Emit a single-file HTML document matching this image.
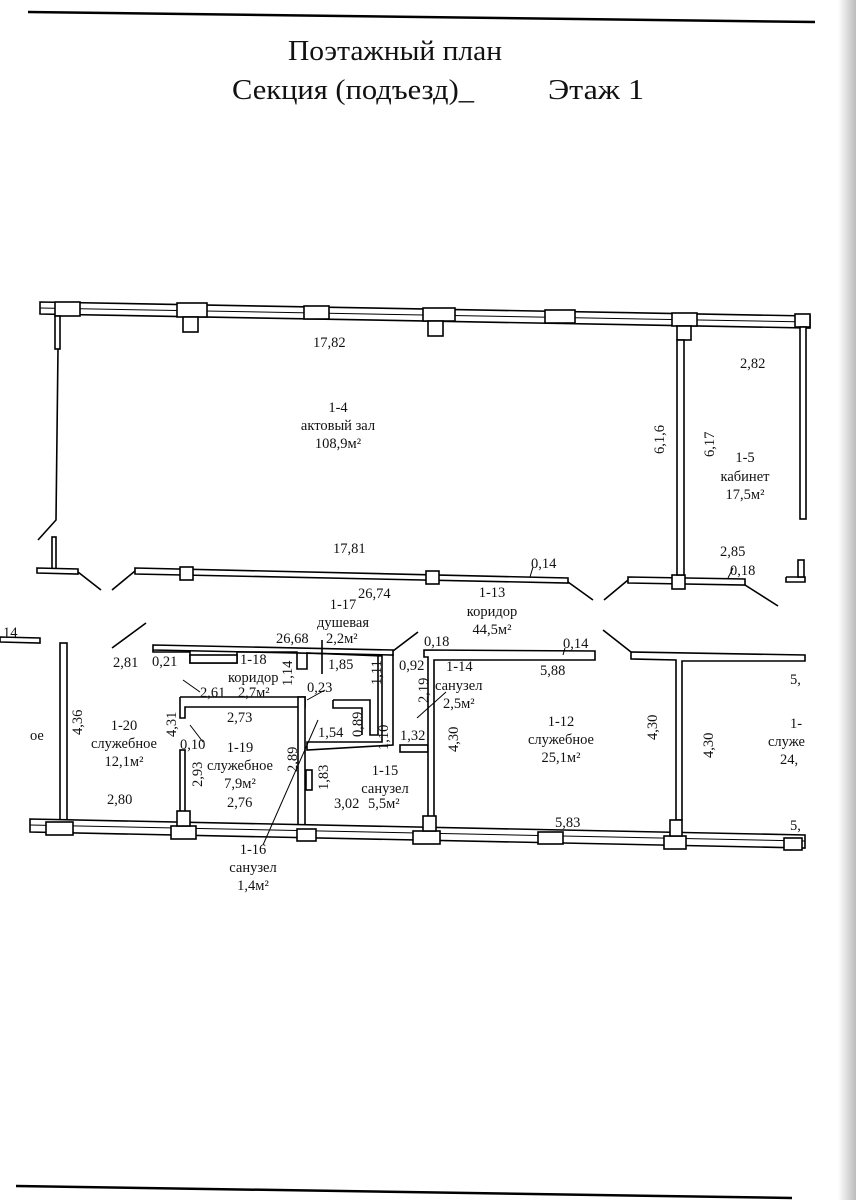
<!DOCTYPE html>
<html><head><meta charset="utf-8"><style>
html,body{margin:0;padding:0;background:#fff;}
svg{display:block}
text{font-family:"Liberation Serif",serif;fill:#111;}
.t{font-size:14.5px;}
</style></head><body>
<svg width="856" height="1200" viewBox="0 0 856 1200" xmlns="http://www.w3.org/2000/svg">
<defs><linearGradient id="g" x1="0" x2="1"><stop offset="0" stop-color="#fff"/><stop offset="0.5" stop-color="#ddd"/><stop offset="1" stop-color="#bbb"/></linearGradient></defs>
<rect x="838" y="0" width="18" height="1200" fill="url(#g)"/>
<line x1="28" y1="12" x2="815" y2="22" stroke="#000" stroke-width="2.5"/>
<line x1="16" y1="1186" x2="792" y2="1198" stroke="#000" stroke-width="2.5"/>
<text x="395" y="60" font-size="29" text-anchor="middle" textLength="214" lengthAdjust="spacingAndGlyphs">Поэтажный план</text>
<text x="232" y="99" font-size="29" textLength="242" lengthAdjust="spacingAndGlyphs">Секция (подъезд)_</text>
<text x="548" y="99" font-size="29" textLength="96" lengthAdjust="spacingAndGlyphs">Этаж  1</text>

<g fill="#fff" stroke="#000" stroke-width="1.6">
<polygon points="40,302 810,316 810,328 40,314"/>
<line x1="40" y1="308" x2="810" y2="322" stroke-width="1"/>
<rect x="55" y="302" width="25" height="14"/>
<rect x="177" y="303" width="30" height="14"/><rect x="183" y="317" width="15" height="15"/>
<rect x="304" y="306" width="25" height="13"/>
<rect x="423" y="308" width="32" height="13"/><rect x="428" y="321" width="15" height="15"/>
<rect x="545" y="310" width="30" height="13"/>
<rect x="672" y="313" width="25" height="13"/><rect x="677" y="326" width="14" height="14"/>
<rect x="795" y="314" width="15" height="13"/>
<rect x="55" y="316" width="5" height="33"/>
<polyline fill="none" points="58,349 56,520 38,540"/>
<rect x="52" y="537" width="4" height="32"/>
<polygon points="37,568 78,569 78,574 37,573"/>
<polyline fill="none" points="78,572 101,590"/>
<polyline fill="none" points="112,590 135,571"/>
<polygon points="135,568 568,578 568,583 135,574"/>
<rect x="180" y="567" width="13" height="13"/>
<rect x="426" y="571" width="13" height="13"/>
<polyline fill="none" points="568,582 593,600"/>
<polyline fill="none" points="604,600 628,580"/>
<polygon points="628,577 745,579 745,585 628,583"/>
<rect x="672" y="575" width="13" height="14"/>
<polyline fill="none" points="745,585 778,606"/>
<rect x="677" y="340" width="7" height="235"/>
<rect x="800" y="327" width="6" height="192"/>
<polyline fill="none" points="786,577 805,577 805,582 786,582 786,577"/>
<rect x="798" y="560" width="6" height="17"/>
<polygon points="0,637 40,638 40,643 0,642"/>
<polyline fill="none" points="112,648 146,623"/>
<rect x="60" y="643" width="7" height="180"/>
<polygon points="153,645 393,650 393,655 153,650"/>
<polyline fill="none" points="393,651 418,632"/>
<polyline fill="none" points="153,650 153,652 190,652 190,663 237,663 237,652 297,652 297,669 307,669 307,653 382,656 382,742 307,742 307,750 393,745 393,654"/>
<rect x="190" y="655" width="47" height="8"/>
<polyline fill="none" points="333,700 370,700 370,735 378,735 378,656"/>
<polyline fill="none" points="333,700 333,708 362,708 362,735"/>
<line x1="322" y1="640" x2="322" y2="674"/>
<polyline fill="none" points="180,697 305,697 305,707 185,707 185,718 180,718 180,697"/>
<rect x="298" y="697" width="7" height="130"/>
<rect x="180" y="750" width="5" height="62"/>
<rect x="306" y="770" width="6" height="20"/>
<rect x="400" y="745" width="28" height="7"/>
<polygon points="424,650 595,651 595,660 434,660 434,818 428,818 428,657 424,657"/>
<polyline fill="none" points="603,630 631,652"/>
<polygon points="631,652 805,655 805,661 682,661 682,820 676,820 676,660 631,659"/>
<polygon points="30,819 805,835 805,848 30,832"/>
<line x1="30" y1="825" x2="805" y2="841" stroke-width="1"/>
<rect x="46" y="822" width="27" height="13"/>
<rect x="171" y="826" width="25" height="13"/><rect x="177" y="811" width="13" height="15"/>
<rect x="297" y="829" width="19" height="12"/>
<rect x="413" y="831" width="27" height="13"/><rect x="423" y="816" width="13" height="15"/>
<rect x="538" y="832" width="25" height="12"/>
<rect x="664" y="836" width="22" height="13"/><rect x="670" y="820" width="12" height="16"/>
<rect x="784" y="838" width="18" height="12"/>
</g>
<g stroke="#000" stroke-width="1" fill="none">
<line x1="318" y1="720" x2="263" y2="845"/>
<line x1="417" y1="718" x2="446" y2="692"/>
<line x1="183" y1="680" x2="200" y2="692"/>
<line x1="190" y1="725" x2="203" y2="742"/>
<line x1="307" y1="700" x2="325" y2="690"/>
<line x1="530" y1="577" x2="533" y2="567"/>
<line x1="728" y1="578" x2="733" y2="568"/>
<line x1="563" y1="655" x2="565" y2="648"/>
</g>
<g class="t">
<text x="313" y="347">17,82</text>
<text x="338" y="412" text-anchor="middle">1-4</text>
<text x="338" y="430" text-anchor="middle">актовый зал</text>
<text x="338" y="448" text-anchor="middle">108,9м²</text>
<text x="333" y="553">17,81</text>
<text x="740" y="368">2,82</text>
<text x="745" y="462" text-anchor="middle">1-5</text>
<text x="745" y="481" text-anchor="middle">кабинет</text>
<text x="745" y="499" text-anchor="middle">17,5м²</text>
<text x="720" y="556">2,85</text>
<text x="730" y="575">0,18</text>
<text x="531" y="568">0,14</text>
<text transform="translate(664,454) rotate(-90)">6,1,6</text>
<text transform="translate(714,457) rotate(-90)">6,17</text>
<text x="358" y="598">26,74</text>
<text x="343" y="609" text-anchor="middle">1-17</text>
<text x="343" y="627" text-anchor="middle">душевая</text>
<text x="276" y="643">26,68</text>
<text x="326" y="643">2,2м²</text>
<text x="492" y="597" text-anchor="middle">1-13</text>
<text x="492" y="616" text-anchor="middle">коридор</text>
<text x="492" y="634" text-anchor="middle">44,5м²</text>
<text x="3" y="637">14</text>
<text x="113" y="667">2,81</text>
<text x="152" y="666">0,21</text>
<text x="240" y="664">1-18</text>
<text x="228" y="682">коридор</text>
<text x="200" y="697">2,61</text>
<text x="238" y="697">2,7м²</text>
<text x="307" y="692">0,23</text>
<text x="328" y="669">1,85</text>
<text transform="translate(292,686) rotate(-90)">1,14</text>
<text transform="translate(381,685) rotate(-90)">1,11</text>
<text x="399" y="670">0,92</text>
<text x="424" y="646">0,18</text>
<text x="446" y="671">1-14</text>
<text x="435" y="690">санузел</text>
<text x="443" y="708">2,5м²</text>
<text transform="translate(428,703) rotate(-90)">2,19</text>
<text x="563" y="648">0,14</text>
<text x="540" y="675">5,88</text>
<text x="561" y="726" text-anchor="middle">1-12</text>
<text x="561" y="744" text-anchor="middle">служебное</text>
<text x="561" y="762" text-anchor="middle">25,1м²</text>
<text transform="translate(458,752) rotate(-90)">4,30</text>
<text transform="translate(657,740) rotate(-90)">4,30</text>
<text transform="translate(713,758) rotate(-90)">4,30</text>
<text x="790" y="684">5,</text>
<text x="790" y="728">1-</text>
<text x="768" y="746">служе</text>
<text x="780" y="764">24,</text>
<text x="790" y="830">5,</text>
<text x="555" y="827">5,83</text>
<text transform="translate(82,735) rotate(-90)">4,36</text>
<text x="30" y="740">ое</text>
<text x="124" y="730" text-anchor="middle">1-20</text>
<text x="124" y="748" text-anchor="middle">служебное</text>
<text x="124" y="766" text-anchor="middle">12,1м²</text>
<text x="107" y="804">2,80</text>
<text transform="translate(176,737) rotate(-90)">4,31</text>
<text x="180" y="749">0,10</text>
<text x="227" y="722">2,73</text>
<text x="240" y="752" text-anchor="middle">1-19</text>
<text x="240" y="770" text-anchor="middle">служебное</text>
<text x="240" y="788" text-anchor="middle">7,9м²</text>
<text x="227" y="807">2,76</text>
<text transform="translate(202,787) rotate(-90)">2,93</text>
<text transform="translate(297,772) rotate(-90)">2,89</text>
<text x="318" y="737">1,54</text>
<text transform="translate(362,737) rotate(-90)">0,89</text>
<text transform="translate(388,750) rotate(-90)">1,10</text>
<text x="400" y="740">1,32</text>
<text transform="translate(328,790) rotate(-90)">1,83</text>
<text x="385" y="775" text-anchor="middle">1-15</text>
<text x="385" y="793" text-anchor="middle">санузел</text>
<text x="334" y="808">3,02</text>
<text x="368" y="808">5,5м²</text>
<text x="253" y="854" text-anchor="middle">1-16</text>
<text x="253" y="872" text-anchor="middle">санузел</text>
<text x="253" y="890" text-anchor="middle">1,4м²</text>
</g>
</svg>
</body></html>
